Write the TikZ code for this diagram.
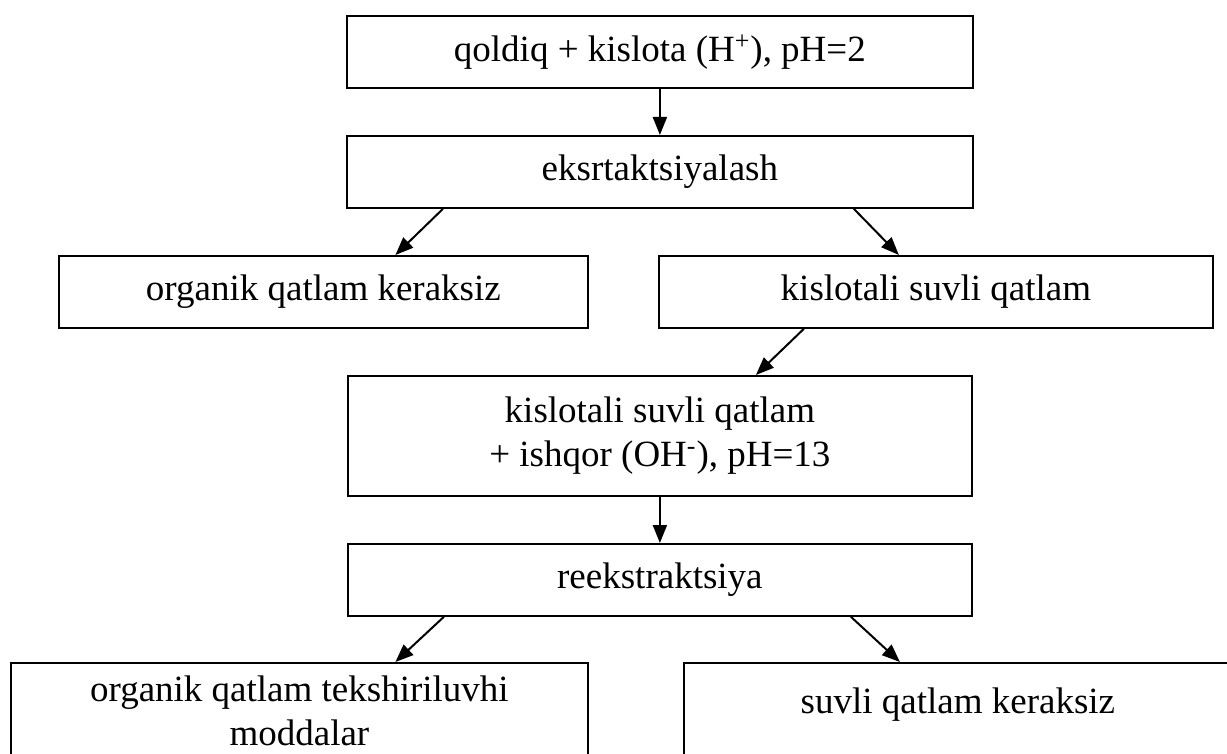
\documentclass[tikz,border=0pt]{standalone}
\usepackage{fontspec}
\setmainfont{Liberation Serif}
\usetikzlibrary{arrows.meta}

\begin{document}
\begin{tikzpicture}[x=0.5pt, y=-0.5pt,
            b/.style={draw, line width=0.9pt, anchor=north west, minimum height=36pt,
                      inner sep=0pt, align=center, font=\fontsize{18.5}{22}\selectfont},
            a/.style={-{Triangle[length=9pt,width=7pt]}, line width=1pt}
          ]
          \useasboundingbox (0,0) rectangle (1227,754);
          \clip (0,0) rectangle (1227,754);
          \node[b, minimum width=313pt] (r1) at (346,15) {qoldiq + kislota (H\textsuperscript{+}), pH=2};
          \node[b, minimum width=313pt] (r2) at (346,135) {eksrtaktsiyalash};
          \node[b, minimum width=264.5pt] (r3l) at (58,255) {organik qatlam keraksiz};
          \node[b, minimum width=277pt] (r3r) at (658,255) {kislotali suvli qatlam};
          \node[b, minimum width=312pt, minimum height=60pt] (r4) at (347,375)
            {kislotali suvli qatlam\\ + ishqor (OH\textsuperscript{-}), pH=13};
          \node[b, minimum width=312pt] (r5) at (347,543) {reekstraktsiya};
          \node[b, minimum width=288.5pt, minimum height=48pt] (r6l) at (10,662)
            {organik qatlam tekshiriluvhi\\ moddalar};
          \node[b, minimum width=274pt, inner ysep=13pt, text height=12.5pt, text depth=40pt]
            (r6r) at (683,662) {suvli qatlam keraksiz};
          \draw[a] (r1) -- (r2);
          \draw[a] ([xshift=48.5pt]r2.south west) -- ([xshift=36pt]r3l.north);
          \draw[a] ([xshift=-60pt]r2.south east) -- ([xshift=-18.5pt]r3r.north);
          \draw[a] ([xshift=-66pt]r3r.south) -- ([xshift=48pt]r4.north);
          \draw[a] (r4) -- (r5);
          \draw[a] ([xshift=-108pt]r5.south) -- ([xshift=48pt]r6l.north);
          \draw[a] ([xshift=95.5pt]r5.south) -- ([xshift=-29pt]r6r.north);
        \end{tikzpicture}
\end{document}
